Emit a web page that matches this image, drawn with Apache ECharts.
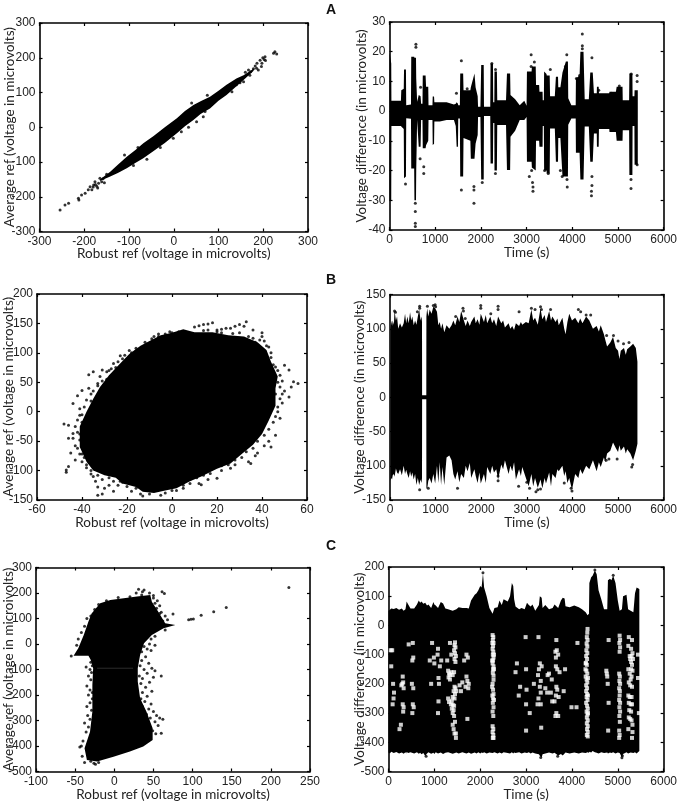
<!DOCTYPE html>
<html><head><meta charset="utf-8">
<style>html,body{margin:0;padding:0;background:#fff}#c{width:680px;height:805px}</style>
<script src="https://cdn.jsdelivr.net/npm/echarts@6/dist/echarts.min.js"></script>
</head><body><div id="c"></div>
<script>
// ---------- Panel A ----------
const aLeftOutline=[[-165,-150],[-142,-128],[-125,-108],[-105,-85],[-85,-65],[-68,-46],[-45,-25],[-20,0],[7,26],[25,47],[44,64],[60,75],[81,88],[100,105],[118,122],[140,140],[156,150],[180,170],[178,162],[156,136],[118,93],[100,76],[81,54],[60,38],[44,21],[25,3],[7,-17],[-20,-45],[-45,-68],[-68,-89],[-85,-102],[-105,-118],[-125,-132],[-142,-142],[-165,-155]];
const aLeftDots=[[-254,-238],[-243,-224],[-235,-219],[-213,-204],[-212,-209],[-206,-195],[-198,-190],[-191,-180],[-187,-171],[-183,-180],[-179,-166],[-176,-157],[-172,-170],[-168,-161],[-165,-147],[-161,-157],[-158,-148],[-155,-160],[-170,-175],[-180,-172],[-150,-135],[-175,-165],[-1,-32],[17,-13],[33,0],[51,16],[66,30],[70,45],[-30,-58],[-60,-92],[-90,-110],[223,213],[226,217],[230,211],[204,203],[202,195],[197,184],[193,193],[199,200],[186,184],[182,176],[189,165],[178,168],[172,160],[167,165],[160,158],[156,131],[148,128],[140,122],[196,175],[205,192],[185,170],[170,150],[130,102],[-110,-80],[-80,-58],[40,70],[75,92]];
const aRightRows=[[0,20,-30],[38,16,-30],[42,3.5,-5],[250,3.5,-5],[258,7,-5.2],[312,7.5,-6],[318,14,-22.6],[360,14,-22],[366,2,-2.4],[470,2.2,-2.6],[476,18.3,-19.3],[540,18.3,-19.3],[546,18,-30],[580,18,-30],[585,11,-20],[605,3.2,-3],[640,5.4,-12],[680,5,-12],[692,2.5,-3],[722,2.5,-3],[728,12,-12.5],[790,12,-12.5],[800,8.2,-11.5],[848,8.2,-10],[854,2,-3],[940,2,-3],[946,4.9,-11.4],[975,4.9,-11],[982,3,-3.5],[1100,3,-3.5],[1250,3,-3],[1410,2.2,-3],[1450,2.5,-5],[1470,3,-12],[1498,2.5,-12],[1505,2,-2.5],[1540,2,-2.5],[1548,12.7,-22],[1612,12.7,-22],[1620,7,-9],[1770,7,-10],[1780,8,-16],[1860,12.7,-16],[1884,8,-11],[1930,5,-8],[1938,1.5,-2],[1990,1.5,-2],[2007,15.5,-23],[2062,15.5,-23],[2068,1.5,-1.6],[2205,1.5,-1.6],[2212,16,-17.6],[2264,16,-17.6],[2270,3,-4],[2294,3,-4],[2298,13.3,-20],[2350,13.3,-20],[2358,3.7,-4.7],[2550,3.7,-4.7],[2571,12.7,-19.8],[2640,12.7,-19.8],[2648,5.4,-8.6],[2750,4,-6.6],[2850,2,-3],[2950,3.5,-3],[3000,1.8,-2],[3008,13.3,-17],[3110,13.3,-17],[3116,15,-19],[3200,15,-20],[3207,8.8,-10],[3275,8.8,-10],[3282,6.5,-12],[3350,6.5,-12],[3354,3.7,-5],[3378,3.7,-5],[3384,13.3,-20],[3436,12.5,-20],[3442,12,-21],[3506,12,-21],[3514,5,-5.8],[3618,5,-5.8],[3642,11.6,-17],[3688,11.6,-17],[3694,8,-9],[3740,8,-9],[3786,13,-22],[3860,16.7,-22],[3905,16.7,-22],[3912,4.3,-4.6],[3980,2,-2.5],[4075,2,-2.5],[4080,11,-14],[4160,12,-14],[4178,20,-23],[4246,20,-23],[4272,4,-5.2],[4362,4,-5.2],[4394,13,-17],[4448,13,-17],[4474,6,-7.5],[4536,6,-7.5],[4540,8.2,-12],[4578,8.2,-12],[4584,6,-6],[4810,6,-6],[4815,6.5,-7],[4955,6.5,-7],[4972,8.2,-10],[5100,8.2,-10],[5105,3.7,-6.4],[5244,3.7,-6.4],[5250,12.7,-21.5],[5316,12.7,-21.5],[5320,5,-5],[5360,5,-5],[5364,7,-18],[5434,7,-18]];
const aRightDots=[[578,22.5],[578,21.5],[565,-31],[565,-33.8],[565,-37.7],[565,-38.8],[350,-24.5],[680,8],[670,-16],[750,-18.7],[750,-21],[1465,6],[1573,-26.5],[1573,17],[1848,-25.4],[1848,-26.5],[1848,-31],[2318,-21],[2030,-24],[2240,16],[2320,14],[3100,19],[3100,15],[3140,-27],[3140,-25.5],[3130,-24],[3170,16.5],[3520,14],[3475,-21],[3395,-20],[3890,-25.5],[3880,19],[3850,15],[4220,26],[4220,22],[4220,21],[4160,12],[4090,11],[4430,18],[4430,-25],[4420,-27],[4420,-28.5],[4430,-22],[4580,7],[5285,-26],[5285,-23],[5290,12.5],[5420,12],[5420,10],[5420,-18],[5030,8.5],[4850,6],[3780,-22],[3740,-20],[1700,7.5],[3060,-22],[3110,-20],[3885,-23]];
// ---------- Panel B ----------
const bLeftOutline=[[-41,-60],[-38,-85],[-35,-100],[-30,-108],[-25,-112],[-22,-122],[-16,-128],[-13,-136],[-8,-138],[-3,-134],[2,-130],[8,-118],[13,-110],[20,-97],[26,-88],[31,-72],[36,-56],[40,-38],[43,-15],[46,10],[46,40],[47,60],[44,85],[42,105],[38,118],[32,128],[25,130],[18,135],[10,135],[5,140],[0,134],[-5,130],[-10,120],[-14,112],[-19,98],[-24,78],[-28,62],[-32,42],[-35,22],[-38,0],[-41,-25]];
const bLeftDots=[[-48,-21],[-46,-23],[-44,14],[-42,27],[-40,36],[-37,40],[-37,63],[-35,68],[-31,71],[-29,55],[-33,48],[-36,30],[-38,20],[-41,5],[-47,-99],[-47,-103],[-46,-93],[-45,-70],[-43,-82],[-46,-45],[-44,-37],[-43,-25],[-41,-6],[-42,-14],[-41,-48],[-42,-62],[-41,-72],[-40,-85],[-38,-90],[-36,-100],[-35,-110],[-34,-118],[-33,-128],[-33,-142],[-31,-140],[-30,-130],[-28,-125],[-26,-135],[-24,-125],[-22,-120],[-20,-127],[-18,-135],[-16,-130],[-14,-140],[-13,-143],[-10,-140],[-5,-142],[0,-134],[5,-130],[8,-122],[12,-122],[13,-124],[16,-115],[20,-113],[22,-100],[26,-96],[28,-90],[34,-85],[35,-88],[37,-75],[38,-70],[41,-58],[44,-60],[43,-50],[46,-40],[48,-11],[47,0],[49,15],[52,25],[50,35],[53,42],[56,48],[54,51],[52,71],[50,79],[48,62],[47,50],[46,30],[45,80],[44,92],[43,110],[41,120],[40,134],[40,128],[37,118],[36,139],[33,153],[32,145],[30,148],[28,145],[26,142],[24,142],[22,140],[20,139],[18,151],[16,149],[14,148],[12,146],[10,144],[16,139],[-23,95],[-21,96],[-18,100],[-16,103],[-14,105],[-12,110],[-8,128],[-6,132],[-3,132],[0,134],[3,136],[-26,82],[-25,75],[-28,70],[-32,60],
[-40,-18],[-42,-35],[-44,-45],[-43,-58],[-39,-68],[-40,-72],[-37,-78],[-39,-78],[-38,-95],[-33,-108],[-36,-106],[-31,-115],[-28,-112],[-26,-118],[-23,-118],[-20,-120],[-17,-122],[-14,-128],[-11,-132],[-8,-134],[-3,-138],[2,-134],[5,-125],[8,-115],[11,-112],[14,-108],[17,-105],[22,-92],[25,-90],[28,-82],[31,-78],[33,-68],[36,-62],[38,-50],[41,-40],[43,-30],[45,-18],[46,-8],[47,8],[48,22],[49,30],[48,42],[49,52],[47,70],[46,76],[44,100],[42,112],[39,122],[36,125],[34,128],[30,134],[27,133],[22,134],[20,136],[14,138],[-1,136],[-6,128],[-9,124],[-12,118],[-16,108],[-19,104],[-22,90],[-24,85],[-27,73],[-29,68],[-31,52],[-33,44],[-35,35],[-36,18],[-39,8],[-40,-5],[-39,-40],[-41,-38]];
const bRightRows=[[10,100,-122],[30,112,-118],[45,104,-120],[60,112,-114],[85,106,-112],[100,126,-116],[130,112,-104],[155,118,-110],[180,100,-112],[220,108,-105],[260,102,-114],[300,108,-100],[330,122,-112],[355,108,-106],[380,118,-112],[410,108,-118],[440,124,-108],[465,112,-116],[490,118,-110],[520,105,-120],[550,112,-112],[580,106,-128],[610,118,-118],[640,128,-128],[670,112,-120],[690,118,-125],[702,110,-118],[704,3,-3],[796,3,-3],[798,118,-132],[815,130,-134],[840,118,-122],[870,128,-118],[910,122,-126],[950,132,-112],[990,130,-126],[1030,125,-100],[1060,105,-125],[1090,110,-95],[1120,100,-128],[1150,108,-102],[1190,95,-128],[1240,105,-88],[1300,100,-85],[1350,105,-92],[1390,112,-112],[1430,105,-120],[1480,118,-108],[1520,110,-124],[1560,126,-112],[1620,112,-118],[1660,104,-100],[1700,112,-108],[1750,104,-96],[1780,110,-118],[1850,118,-105],[1880,108,-115],[1920,114,-125],[1960,106,-110],[1990,122,-126],[2060,110,-112],[2100,120,-125],[2130,108,-102],[2200,118,-112],[2240,108,-100],[2280,114,-110],[2330,104,-105],[2370,118,-120],[2440,108,-98],[2480,112,-105],[2520,102,-92],[2600,108,-112],[2640,100,-100],[2680,104,-108],[2720,98,-95],[2760,108,-120],[2830,104,-105],[2870,110,-115],[2900,106,-102],[2980,110,-118],[3040,108,-130],[3100,128,-112],[3140,112,-130],[3180,116,-118],[3240,106,-132],[3300,130,-120],[3340,114,-133],[3390,120,-118],[3420,110,-126],[3490,126,-110],[3530,112,-130],[3560,118,-112],[3630,110,-118],[3670,115,-105],[3700,105,-108],[3780,116,-100],[3820,100,-115],[3850,92,-108],[3890,110,-125],[3930,122,-118],[3990,112,-135],[4060,116,-112],[4130,108,-118],[4170,115,-105],[4220,108,-112],[4300,118,-100],[4370,112,-105],[4450,100,-92],[4530,104,-108],[4580,96,-95],[4620,105,-102],[4690,92,-88],[4720,84,-95],[4760,74,-82],[4830,80,-78],[4890,88,-66],[4950,72,-74],[5000,68,-80],[5030,56,-70],[5060,68,-78],[5130,72,-72],[5170,62,-82],[5200,70,-76],[5270,74,-82],[5330,78,-92],[5390,72,-78],[5425,52,-68]];
const bRightDots=[[100,126],[120,124],[600,125],[650,133],[650,130],[820,133],[950,134],[990,135],[1000,132],[1000,48],[1015,50],[1480,-133],[1600,130],[1610,126],[1990,134],[1990,130],[2370,133],[2370,128],[3100,130],[3180,128],[3300,132],[3320,128],[3520,128],[3990,-137],[3970,-133],[3060,-133],[3200,-138],[3240,-135],[3300,-134],[4130,128],[4180,125],[4400,120],[4750,90],[4900,90],[5300,-102],[5320,-98],[5000,82],[5240,80],[2370,-115],[2370,-122],[650,-135],[840,-133],[2820,-130],[2830,125],[1650,115],[1440,118],[2210,122],[4300,120],[3820,-125],[4740,-92],[4800,-90],[5120,78],[4980,-90],[3000,-124]];
// ---------- Panel C ----------
const cLeftOutline=[[-52,-46],[-46,-17],[-39,35],[-33,88],[-29,120],[-18,160],[-5,173],[12,179],[29,186],[46,192],[48,166],[56,127],[65,81],[78,75],[63,62],[48,35],[38,3],[33,-43],[30,-95],[30,-147],[33,-213],[41,-265],[49,-330],[49,-376],[37,-402],[20,-422],[-1,-442],[-22,-461],[-35,-455],[-38,-409],[-31,-344],[-28,-265],[-28,-161],[-27,-95],[-30,-63],[-33,-46]];
const cLeftDots=[[-55,-47],[-30,-72],[-36,-90],[-28,-85],[-31,-100],[-29,-112],[-33,-125],[-30,-140],[-35,-165],[-31,-180],[-28,-190],[-33,-200],[-28,-215],[-31,-230],[-35,-245],[-29,-260],[-34,-280],[-31,-295],[-38,-310],[-33,-325],[-36,-345],[-40,-380],[-42,-400],[-44,-404],[-38,-465],[-26,-468],[-24,-472],[-30,-460],[-41,-440],[-20,-465],
[38,-10],[42,-20],[35,-30],[47,-25],[52,-5],[40,-50],[35,-65],[44,-75],[33,-85],[38,-100],[42,-115],[32,-125],[36,-135],[50,-130],[45,-150],[34,-155],[40,-170],[48,-185],[36,-190],[42,-205],[34,-215],[39,-225],[47,-235],[36,-245],[44,-255],[50,-265],[41,-275],[54,-280],[46,-290],[58,-290],[52,-305],[43,-305],[56,-320],[49,-340],[53,-352],[60,-350],[62,-295],[60,-125],[52,-105],[48,-95],[45,0],[47,20],[52,30],[65,55],
[50,180],[55,170],[52,160],[58,150],[54,140],[60,125],[65,110],[58,120],[68,95],[62,90],[61,205],[64,198],[75,118],[-35,100],[-38,70],[-42,45],[-46,20],[-48,-5],[-30,110],[-25,135],[-20,155],[-10,170],[5,182],[20,185],[35,192],[28,200],[31,215],[36,205],[38,212],[45,200],[50,190],[95,95],[98,97],[101,98],[111,113],[127,126],[143,143],[223,222]];
const cRightRows=[[0,50,-435],[30,54,-438],[60,58,-432],[115,56,-437],[170,60,-433],[230,54,-438],[290,58,-435],[330,50,-439],[370,55,-434],[385,70,-438],[395,82,-433],[430,72,-437],[480,58,-434],[560,58,-438],[620,72,-434],[660,85,-439],[690,78,-436],[720,82,-441],[760,74,-437],[800,78,-447],[840,68,-438],[870,72,-434],[930,60,-439],[980,80,-436],[1000,72,-440],[1030,68,-434],[1080,60,-438],[1140,80,-435],[1190,75,-440],[1240,58,-436],[1300,55,-434],[1400,50,-439],[1480,55,-435],[1530,62,-438],[1610,60,-434],[1700,60,-438],[1750,58,-435],[1800,85,-439],[1880,105,-435],[1920,110,-438],[1960,120,-434],[2000,135,-438],[2030,130,-435],[2060,178,-437],[2085,130,-434],[2140,100,-438],[2200,60,-435],[2270,40,-437],[2310,60,-434],[2380,62,-438],[2420,85,-435],[2470,70,-438],[2510,90,-434],[2600,82,-437],[2650,100,-438],[2690,145,-434],[2720,135,-438],[2740,90,-435],[2770,65,-437],[2850,55,-434],[2900,60,-438],[2970,55,-435],[3020,78,-437],[3060,70,-434],[3100,65,-438],[3140,72,-435],[3200,50,-438],[3280,70,-441],[3300,100,-446],[3340,95,-452],[3360,60,-441],[3420,70,-438],[3500,55,-435],[3580,60,-438],[3620,72,-436],[3700,60,-445],[3760,85,-440],[3800,95,-445],[3840,92,-438],[3860,66,-435],[3950,62,-438],[4050,68,-435],[4150,62,-438],[4220,55,-435],[4300,45,-437],[4340,35,-434],[4372,40,-436],[4380,145,-432],[4420,165,-435],[4450,170,-430],[4500,188,-434],[4540,175,-436],[4580,120,-438],[4640,90,-434],[4700,55,-437],[4770,55,-435],[4785,155,-438],[4830,160,-435],[4860,155,-437],[4900,170,-434],[4950,145,-438],[5000,85,-435],[5040,50,-437],[5090,55,-451],[5115,100,-440],[5190,105,-434],[5225,55,-438],[5280,50,-435],[5340,45,-437],[5375,110,-434],[5410,130,-438],[5470,125,-430]];
const cRightHoles=[[2270,-33],[2285,-40],[2275,-50],[2290,-60],[2280,-70],[2270,-80],[2285,-90],[2275,-100],[2290,-110],[2280,-120],[2270,-130],[2290,-140],[2280,-150],[2275,-162],[2290,-172],[2290,-186],[2270,-200],[2260,-210],[2280,-220],[2290,-235],[2265,-240],[2280,-250],[2300,-255],[2275,-265],[2290,-280],[2270,-295],[2285,-310],[2270,-345],[2285,-355],[2270,-365],[2285,-375],[2275,-385],[2290,-385],[2265,-60],[2300,-100],[2260,-120],[2300,-150],
[4340,-12],[4335,-25],[4325,-40],[4340,-50],[4320,-62],[4335,-72],[4315,-85],[4335,-95],[4310,-105],[4330,-115],[4305,-128],[4325,-135],[4295,-150],[4315,-155],[4335,-165],[4300,-175],[4320,-185],[4335,-195],[4310,-205],[4330,-215],[4310,-225],[4330,-235],[4320,-245],[4340,-255],[4310,-265],[4330,-275],[4345,-285],[4320,-295],[4340,-305],[4325,-315],[4345,-325],[4325,-335],[4345,-345],[4330,-355],[4345,-365],[4325,-375],[4345,-380],[4350,-300],[4350,-240],[4350,-180],[4300,-130],
[5040,-35],[5050,-50],[5035,-60],[5050,-75],[5040,-90],[5030,-165],[5045,-175],[5035,-190],[5050,-200],[5030,-215],[5045,-225],[5040,-240],[5030,-255],[5050,-265],[5035,-280],[5050,-295],[5035,-310],[5045,-330],[5030,-360],[5040,-375],[5030,-385],
[5240,-40],[5310,-50],[5230,-70],[5290,-80],[5320,-95],[5260,-105],[5300,-105],[5270,-115],[5330,-115],[5290,-125],[5310,-135],[5230,-150],[5290,-150],[5320,-155],[5260,-165],[5300,-175],[5280,-185],[5240,-195],[5270,-205],[5310,-210],[5230,-240],[5260,-245],[5300,-245],[5240,-265],[5280,-270],[5310,-270],[5250,-290],[5290,-295],[5240,-315],[5270,-320],[5300,-325],[5320,-340],[5230,-355],[5320,-365],[5310,-385],
[1450,-58],[1440,-68],[1460,-75],[1430,-85],[1450,-95],[1470,-105],[1440,-115],[1460,-125],[1300,-155],[1320,-165],[1340,-170],[1310,-178],[1340,-185],[1430,-160],[1400,-170],[1440,-210],[1460,-215],[1420,-225],[1480,-225],[1450,-235],[1400,-245],[1440,-250],[1380,-258],[1300,-250],[1320,-262],[1360,-270],[1400,-272],[1430,-275],[1380,-285],[1420,-290],[1400,-300],[1430,-310],[1370,-160],[1150,-120],[1080,-80],[1090,-180],[1100,-200],[1070,-100],[1090,-260],[1080,-300],[1120,-140],[1450,-330],[1420,-355],[1470,-370],[1470,-385],[1400,-340],[1440,-370],[1280,-120],[1340,-60],[1370,-100],[1700,-175],[1720,-190],[1750,-200],[1680,-210],[1740,-215],[1700,-100],[1730,-110],[1650,-120],[1720,-320],[1610,-195],[1550,-205],[1580,-225],
[310,-175],[320,-195],[300,-200],[280,-205],[330,-215],[310,-270],[330,-280],[320,-295],[240,-355],[270,-340],[110,-250],[90,-270],[50,-85],[80,-85],[60,-140],[100,-200],[120,-230],[530,-60],[540,-110],[520,-120],[510,-200],[540,-215],[530,-270],[550,-280],[520,-300],[440,-65],[990,-110],[1000,-130],[900,-120],[930,-200],[950,-60],
[2990,-40],[3000,-150],[3010,-220],[3000,-270],[3000,-360],[2800,-130],[2770,-160],[2870,-210],[2840,-240],[3170,-200],[3270,-40],[3280,-150],[3260,-170],[3300,-130],[3320,-190],[3300,-210],[3340,-140],[3320,-230],[3270,-250],[3320,-270],[3420,-215],[3460,-230],[3500,-165],[3540,-230],[3570,-260],[3620,-260],[3650,-110],[3640,-90],[3670,-85],[3700,-100],[3650,-140],[3680,-150],[3660,-210],[3680,-220],[3650,-240],[3660,-300],[3640,-310],[3700,-310],[3730,-160],[3850,-150],[3710,-245],[3660,-50],[3820,-225],[4120,-60],[3990,-280],[4100,-280],[3330,-350],[3080,-300],[3250,-270],[3470,-170],[3560,-185],
[4750,-155],[4760,-165],[4770,-175],[4800,-50],[4780,-200],[4800,-265],[4790,-360],[5440,-100],[5440,-180],[5460,-300]];
const cRightDots=[[3320,-452],[5090,-453],[3690,-448],[820,-448],[5100,-446],[2060,180],[4500,190],[4900,172]];
const cLeftSeam=[[-22,-95],[24,-95]];
const panels=[
 {letter:'A',x:[-300,300,100],y:[-300,300,100],xn:'Robust ref (voltage in microvolts)',yn:'Average ref (voltage in microvolts)',box:[39.5,23,308,231.5],outline:aLeftOutline,dots:aLeftDots,xGap:15,yGap:23},
 {x:[0,6000,1000],y:[-40,30,10],xn:'Time (s)',yn:'Voltage difference (in microvolts)',box:[389.5,22,666,230],rows:aRightRows,dots:aRightDots,xGap:16,yGap:21},
 {letter:'B',x:[-60,60,20],y:[-150,200,50],xn:'Robust ref (voltage in microvolts)',yn:'Average ref (voltage in microvolts)',box:[37,294,307,500],outline:bLeftOutline,dots:bLeftDots,xGap:16,yGap:21},
 {x:[0,6000,1000],y:[-150,150,50],xn:'Time (s)',yn:'Voltage difference (in microvolts)',box:[390,294.5,665.5,500],rows:bRightRows,dots:bRightDots,xGap:16,yGap:23},
 {letter:'C',x:[-100,250,50],y:[-500,300,100],xn:'Robust ref (voltage in microvolts)',yn:'Average ref (voltage in microivolts)',box:[36,567.5,310,771.5],outline:cLeftOutline,dots:cLeftDots,xGap:16,yGap:20},
 {x:[0,6000,1000],y:[-500,200,100],xn:'Time (s)',yn:'Voltage difference (in microvolts)',box:[388.5,567,666,771.5],rows:cRightRows,dots:cRightDots,holes:cRightHoles,xGap:16,yGap:22}
];
const letterTops=[3,273,539];
const tickFont={fontFamily:'"Liberation Sans Narrow","Liberation Sans",Arial,sans-serif',fontSize:12,color:'#222',formatter:v=>String(v)};
const nameFont={fontFamily:'Lato,"Open Sans",sans-serif',fontSize:13.5,color:'#222'};
const grids=[],xAxes=[],yAxes=[],series=[];
const line={show:true,onZero:false,lineStyle:{color:'#000',width:1.6}};
const tick={show:true,inside:true,length:3,lineStyle:{color:'#000',width:1.2}};
panels.forEach((p,i)=>{
  const [l,t,r,b]=p.box;
  grids.push({left:l,top:t,width:r-l,height:b-t});
  const sx={type:'value',gridIndex:i,min:p.x[0],max:p.x[1],interval:p.x[2],splitLine:{show:false},axisLine:line,axisTick:tick};
  const sy={type:'value',gridIndex:i,min:p.y[0],max:p.y[1],interval:p.y[2],splitLine:{show:false},axisLine:line,axisTick:tick};
  xAxes.push(Object.assign({},sx,{position:'bottom',name:p.xn,nameLocation:'middle',nameMoveOverlap:false,nameGap:p.xGap,nameTextStyle:nameFont,axisLabel:Object.assign({margin:4,showMinLabel:true,showMaxLabel:true},tickFont)}));
  yAxes.push(Object.assign({},sy,{position:'left',name:p.yn,nameLocation:'middle',nameMoveOverlap:false,nameGap:p.yGap,nameTextStyle:nameFont,axisLabel:Object.assign({margin:4,showMinLabel:true,showMaxLabel:true},tickFont)}));
  const xBase=xAxes.length-1,yBase=yAxes.length-1;
  const fillShape=p.outline||p.rows;
  series.push({type:'custom',xAxisIndex:xBase,yAxisIndex:yBase,silent:true,z:3,clip:true,data:fillShape,encode:{x:0,y:1},
    renderItem:(params,api)=>{ if(params.dataIndex!==0) return null;
      const pts=p.outline?p.outline.map(q=>api.coord(q))
        :p.rows.map(q=>api.coord([q[0],q[1]])).concat(p.rows.slice().reverse().map(q=>api.coord([q[0],q[2]])));
      return {type:'polygon',shape:{points:pts},style:{fill:'#000'}};}});
  series.push({type:'scatter',xAxisIndex:xBase,yAxisIndex:yBase,silent:true,z:4,symbolSize:3,itemStyle:{color:'#000'},data:p.dots});
  if(p.holes) series.push({type:'scatter',xAxisIndex:xBase,yAxisIndex:yBase,silent:true,z:5,symbol:'rect',symbolSize:4,itemStyle:{color:'#fff'},data:p.holes});
  if(i===4) series.push({type:'line',xAxisIndex:xBase,yAxisIndex:yBase,silent:true,z:6,symbol:'none',lineStyle:{color:'#2b2b2b',width:1},data:cLeftSeam});
});
panels.forEach((p,i)=>{
  const bl={type:'value',gridIndex:i,splitLine:{show:false},axisLine:line,axisTick:tick,axisLabel:{show:false}};
  xAxes.push(Object.assign({},bl,{position:'top',min:p.x[0],max:p.x[1],interval:p.x[2]}));
  yAxes.push(Object.assign({},bl,{position:'right',min:p.y[0],max:p.y[1],interval:p.y[2]}));
});
const titles=panels.filter(p=>p.letter).map((p,i)=>({text:p.letter,left:326,top:letterTops[i],padding:0,textStyle:{fontFamily:'"Liberation Sans",Arial,sans-serif',fontWeight:'bold',fontSize:14,color:'#111'}}));
echarts.init(document.getElementById('c'),null,{renderer:'canvas'}).setOption({animation:false,backgroundColor:'#fff',title:titles,grid:grids,xAxis:xAxes,yAxis:yAxes,series:series});
</script></body></html>
